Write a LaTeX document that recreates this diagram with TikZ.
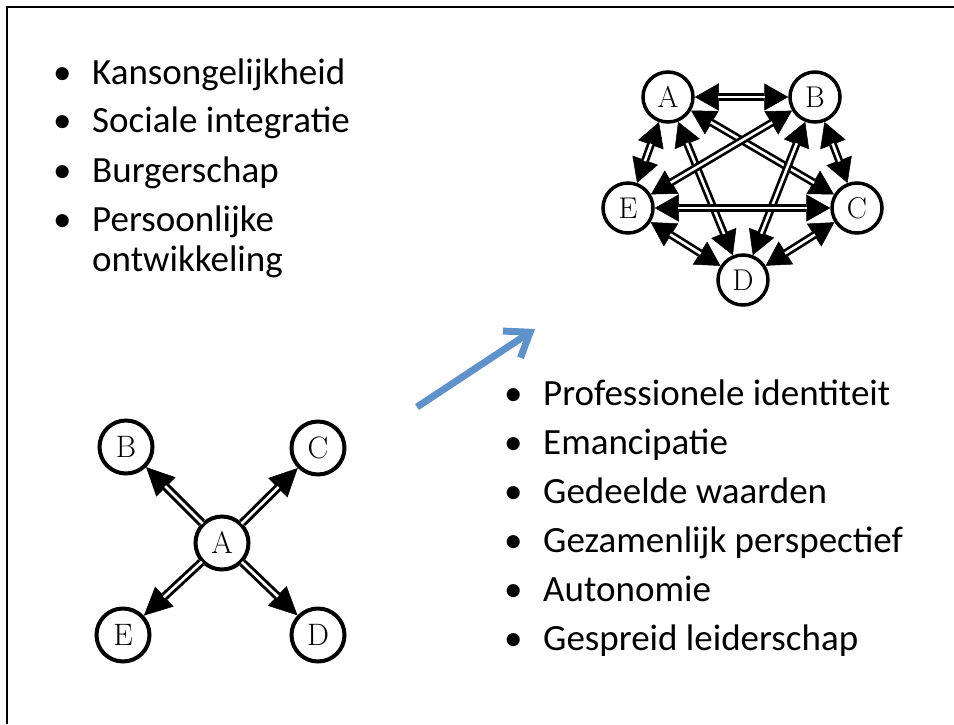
\documentclass[tikz,border=0pt]{standalone}
\usepackage{fontspec}
\newfontfamily\calibri{Carlito}
\usetikzlibrary{arrows.meta}
\definecolor{arrowblue}{RGB}{95,146,202}
\begin{document}
\begin{tikzpicture}[x=1pt,y=-1pt,
  nodeL/.style={circle,draw,line width=4pt,minimum size=53pt,inner sep=0pt,font=\fontsize{31}{31}\selectfont},
  nodeP/.style={circle,draw,line width=3.5pt,minimum size=50pt,inner sep=0pt,font=\fontsize{30}{30}\selectfont},
  outerL/.style={line width=8.5pt,-{Triangle[length=28pt,width=27pt,line width=0.5pt]}},
  innerL/.style={white,line width=2.6pt,shorten >=27pt,shorten <=-1pt},
  outerP/.style={line width=8pt,{Triangle[length=24pt,width=27pt,line width=0.5pt]}-{Triangle[length=24pt,width=27pt,line width=0.5pt]}},
  innerP/.style={white,line width=2.6pt,shorten >=23pt,shorten <=23pt},
  item/.style={anchor=base west,inner sep=0pt,font=\calibri\fontsize{37}{40}\selectfont}
]
\useasboundingbox (0,0) rectangle (954,724);
\fill[white] (0,0) rectangle (954,724);
\draw[line width=2.3pt] (7,724) -- (7,7) -- (954,7);

% left list
\node[item] (k1) at (53,84) {\makebox[39pt][l]{•}Kansongelijkheid};
\node[item] (k2) at (53,132) {\makebox[39pt][l]{•}Sociale integratie};
\node[item] (k3) at (53,182) {\makebox[39pt][l]{•}Burgerschap};
\node[item] (k4) at (53,231) {\makebox[39pt][l]{•}Persoonlijke};
\node[item] (k4b) at (92,271) {ontwikkeling};

% right list
\node[item] (r1) at (504,405) {\makebox[39pt][l]{•}Professionele identiteit};
\node[item] (r2) at (504,454) {\makebox[39pt][l]{•}Emancipatie};
\node[item] (r3) at (504,503) {\makebox[39pt][l]{•}Gedeelde waarden};
\node[item] (r4) at (504,552) {\makebox[39pt][l]{•}Gezamenlijk perspectief};
\node[item] (r5) at (504,601) {\makebox[39pt][l]{•}Autonomie};
\node[item] (r6) at (504,650) {\makebox[39pt][l]{•}Gespreid leiderschap};

% pentagon diagram
\node[nodeP] (pA) at (668,97) {A};
\node[nodeP] (pB) at (815,97) {B};
\node[nodeP] (pC) at (857,208) {C};
\node[nodeP] (pD) at (743,280) {D};
\node[nodeP] (pE) at (628,208) {E};
\foreach \u/\v in {pA/pB,pB/pC,pC/pD,pD/pE,pE/pA,pA/pC,pA/pD,pB/pD,pB/pE,pC/pE}{
  \draw[outerP] (\u) -- (\v);
  \draw[innerP] (\u) -- (\v);
}

% star diagram
\node[nodeL] (lA) at (222,543) {A};
\node[nodeL] (lB) at (126,447) {B};
\node[nodeL] (lC) at (318,448) {C};
\node[nodeL] (lD) at (318,635) {D};
\node[nodeL] (lE) at (123,635) {E};
\foreach \v in {lB,lC,lD,lE}{
  \draw[outerL] (lA) -- (\v);
  \draw[innerL] (lA) -- (\v);
}

% blue arrow
\coordinate (bs) at (417,407);
\coordinate (be) at (535,329);
\draw[arrowblue,line width=7pt,-{Straight Barb[length=22pt,width=32pt]}] (bs) -- (be);
\end{tikzpicture}
\end{document}
